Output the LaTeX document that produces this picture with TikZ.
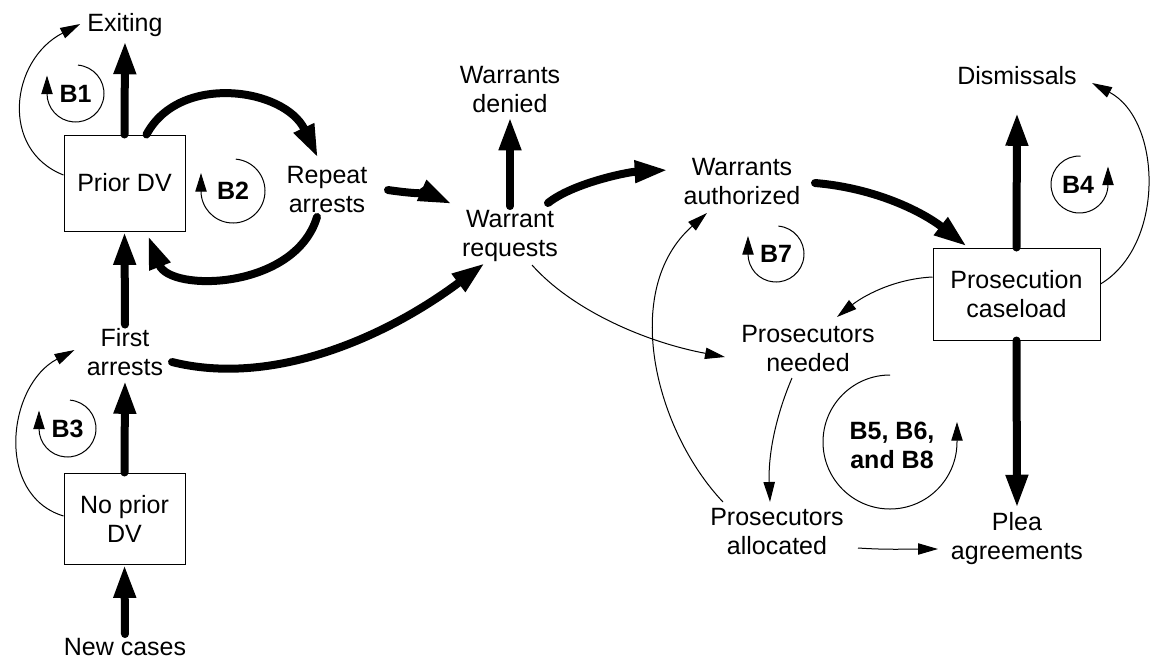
\documentclass[tikz,border=0pt]{standalone}
\usepackage{fontspec}
\setmainfont{Liberation Sans}
\usepackage{tikz}
\usetikzlibrary{arrows.meta,calc}

\tikzset{
  txt/.style={font=\fontsize{18.75}{21.75}\selectfont},
  stock/.style={txt, draw, line width=0.75pt, align=center, inner sep=0pt},
  lbl/.style={txt, align=center, inner sep=3pt},
  looplbl/.style={txt, font=\fontsize{18.75}{21.75}\selectfont\bfseries, align=center, inner sep=0pt},
  flow/.style={line width=6pt, line cap=round, -{Triangle[length=25pt,width=15.5pt]}},
  link/.style={line width=0.75pt, -{Triangle[length=15pt,width=8.5pt]}},
  loopmark/.style={line width=0.75pt, -{Triangle[length=14pt,width=8.5pt]}}
}

\begin{document}
\begin{tikzpicture}[x=0.75pt, y=-0.75pt]
    \useasboundingbox (0,0) rectangle (1154,661);
    % stocks and rates
    \node[lbl] (exiting) at (125,25) {Exiting};
    \node[stock, minimum width=90.75pt, minimum height=72pt] (priordv) at (124.5,183) {Prior DV};
    \node[lbl] (repeat) at (327,190) {Repeat\\arrests};
    \node[lbl] (first) at (125,352.5) {First\\arrests};
    \node[stock, minimum width=90.75pt, minimum height=68.25pt] (noprior) at (124.5,518.5) {No prior\\DV};
    \node[lbl] (newcases) at (125,647) {New cases};
    \node[lbl] (denied) at (510,89.5) {Warrants\\denied};
    \node[lbl] (requests) at (510,236) {Warrant\\requests};
    \node[lbl] (authorized) at (742,181.5) {Warrants\\authorized};
    \node[lbl] (dismissals) at (1017,76) {Dismissals};
    \node[stock, minimum width=125.25pt, minimum height=69pt] (caseload) at (1016.5,294) {Prosecution\\caseload};
    \node[lbl] (needed) at (808,348.5) {Prosecutors\\needed};
    \node[lbl] (allocated) at (777,531.5) {Prosecutors\\allocated};
    \node[lbl] (plea) at (1017,538.5) {Plea\\agreements};

    % flows
    \draw[flow] (priordv.north) -- (exiting.south);
    \draw[flow] ([shift={(22,0)}]priordv.north) .. controls +(33,-62) and +(-33,-70) .. ([shift={(-9,-32)}]repeat.center);
    \draw[flow] ([shift={(-10,27)}]repeat.center) .. controls +(-22,73) and +(22,57) .. ([shift={(23.5,4)}]priordv.south);
    \draw[flow] (first.north) -- (priordv.south);
    \draw[flow] (noprior.north) -- (first.south);
    \draw[flow] (newcases.north) -- (noprior.south);
    \draw[flow] ([shift={(61,0)}]repeat.center) .. controls +(20,3) and +(-20,-9) .. ([shift={(-58,-32)}]requests.center);
    \draw[flow] (requests.north) -- (denied.south);
    \draw[flow] ([shift={(38,-33)}]requests.center) .. controls +(25,-20) and +(-40,2) .. ([shift={(-74,-11.5)}]authorized.center);
    \draw[flow] ([shift={(47,9.5)}]first.center) .. controls +(100,25) and +(-100,75) .. ([shift={(-25,27)}]requests.center);
    \draw[flow] ([shift={(73,1.5)}]authorized.center) .. controls +(60,5) and +(-45,-35) .. ([shift={(-49.5,-1)}]caseload.north);
    \draw[flow] (caseload.north) -- ([shift={(0,23)}]dismissals.south);
    \draw[flow] (caseload.south) -- (plea.north);

    % links
    \draw[link] ([shift={(0,-8)}]priordv.west) .. controls +(-64,-25) and +(-70,36) .. ([shift={(-3,-1)}]exiting.west);
    \draw[link] ([shift={(0,-2.5)}]noprior.west) .. controls +(-69,-21) and +(-67,35) .. ([shift={(-8,-2.5)}]first.west);
    \draw[link] ([shift={(22,29)}]requests.center) .. controls +(40,45) and +(-80,-15) .. ([shift={(-83,8.5)}]needed.center);
    \draw[link] ([shift={(0,-17)}]caseload.west) .. controls +(-40,2) and +(25,-20) .. ([shift={(29,-31.5)}]needed.center);
    \draw[link] ([shift={(-16,29.5)}]needed.center) .. controls +(-15,35) and +(-2,-50) .. ([shift={(-7,-29.5)}]allocated.center);
    \draw[link] ([shift={(-54,-29.5)}]allocated.center) .. controls +(-68,-72) and +(-87,77) .. ([shift={(-35,31.5)}]authorized.center);
    \draw[link] ([shift={(81,16.5)}]allocated.center) .. controls +(30,2) and +(-30,0) .. ([shift={(-79,10.5)}]plea.center);
    \draw[link] ([shift={(0,-10)}]caseload.east) .. controls +(65,-39) and +(70,37) .. ([shift={(11,7)}]dismissals.east);

    % loop markers
    \foreach \cx/\cy/\r/\t in {75.5/93.5/28.5/B1, 233/191/32/B2, 67.5/428.5/28.5/B3, 776/254/28/B7}{
        \draw[loopmark] (\cx,\cy) ++(-85:\r) arc (-85:180:\r) -- ++(0,-18);
        \node[looplbl] (\t) at (\cx,\cy) {\t};
    }
    \draw[loopmark] (1079.5,184.5) ++(-88:28.5) arc (-88:-360:28.5) -- ++(0,-18);
    \node[looplbl] (B4) at (1078,185) {B4};
    \draw[loopmark] (890,442) ++(-90:67) arc (-90:-360:67) -- ++(0,-20);
    \node[looplbl] (B568) at (892,445) {B5, B6,\\and B8};
\end{tikzpicture}
\end{document}
